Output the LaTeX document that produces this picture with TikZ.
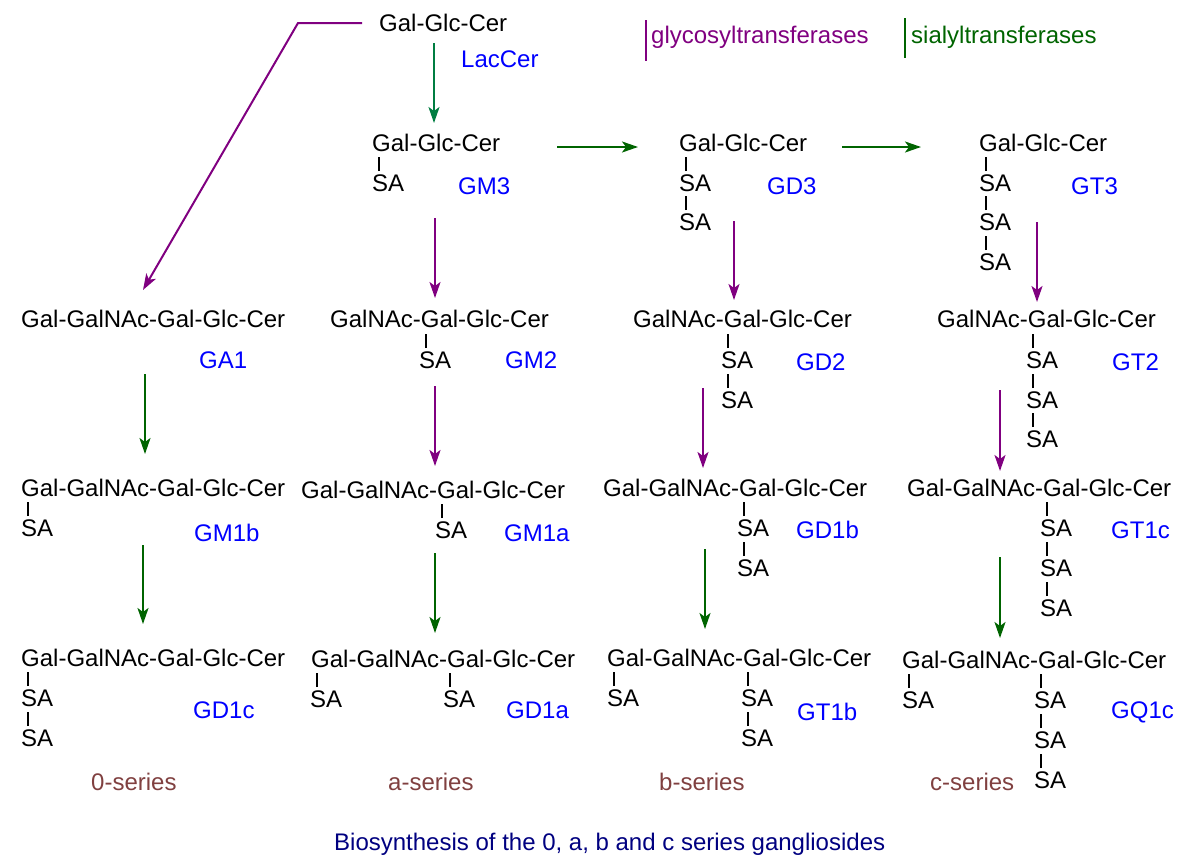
\documentclass[tikz,border=0pt]{standalone}
\usepackage{fontspec}
\setmainfont{Liberation Sans}
\usetikzlibrary{arrows.meta}
\definecolor{pur}{RGB}{128,0,128}
\definecolor{grn}{RGB}{0,100,0}
\definecolor{tealgrn}{RGB}{0,125,65}
\definecolor{lbl}{RGB}{0,0,255}
\definecolor{ser}{RGB}{128,64,64}
\definecolor{ttl}{RGB}{0,0,128}
\newcommand\saunit[3]{\node[sa] (#1) at (#2,#3) {SA};
  \draw[bond] ([shift={(7,-3)}]#1.north west) -- ++(0,-14);}
\begin{document}
\begin{tikzpicture}[x=1pt,y=-1pt,
  txt/.style={inner sep=0pt, anchor=base west, font=\fontsize{24}{28}\selectfont},
  mol/.style={txt, text=black},
  sa/.style={txt, text=black},
  gname/.style={txt, text=lbl},
  series/.style={txt, text=ser},
  arr/.style={line width=2pt, -{Stealth[length=16pt,width=11pt,inset=4pt]}},
  gly/.style={arr, draw=pur},
  sia/.style={arr, draw=grn},
  bond/.style={line width=2pt, draw=black},
  legline/.style={line width=2pt}]
\useasboundingbox (0,0) rectangle (1185,865);

% legend
\node[txt, text=pur] (legg) at (651,43) {glycosyltransferases};
\node[txt, text=grn] (legs) at (911,43) {sialyltransferases};
\draw[legline, pur] (646,20) -- (646,61);
\draw[legline, grn] (905,18) -- (905,58);

% top
\node[mol] (lac) at (379,31) {Gal-Glc-Cer};
\node[gname] (lacname) at (461,67) {LacCer};

% row 1
\node[mol] (gm3) at (372,151) {Gal-Glc-Cer};
\saunit{gm3s1}{372}{191}
\node[gname] (gm3n) at (458,194) {GM3};

\node[mol] (gd3) at (679,151) {Gal-Glc-Cer};
\saunit{gd3s1}{679}{191}
\saunit{gd3s2}{679}{230}
\node[gname] (gd3n) at (767,194) {GD3};

\node[mol] (gt3) at (979,151) {Gal-Glc-Cer};
\saunit{gt3s1}{979}{191}
\saunit{gt3s2}{979}{230}
\saunit{gt3s3}{979}{270}
\node[gname] (gt3n) at (1071,194) {GT3};

% row 2
\node[mol] (ga1) at (21,327) {Gal-GalNAc-Gal-Glc-Cer};
\node[gname] (ga1n) at (199,368) {GA1};

\node[mol] (gm2) at (330,327) {GalNAc-Gal-Glc-Cer};
\saunit{gm2s1}{419}{368}
\node[gname] (gm2n) at (505,368) {GM2};

\node[mol] (gd2) at (633,327) {GalNAc-Gal-Glc-Cer};
\saunit{gd2s1}{721}{368}
\saunit{gd2s2}{721}{408}
\node[gname] (gd2n) at (796,370) {GD2};

\node[mol] (gt2) at (937,327) {GalNAc-Gal-Glc-Cer};
\saunit{gt2s1}{1026}{368}
\saunit{gt2s2}{1026}{408}
\saunit{gt2s3}{1026}{447}
\node[gname] (gt2n) at (1112,370) {GT2};

% row 3
\node[mol] (gm1b) at (21,496) {Gal-GalNAc-Gal-Glc-Cer};
\saunit{gm1bs1}{21}{536}
\node[gname] (gm1bn) at (194,541) {GM1b};

\node[mol] (gm1a) at (301,498) {Gal-GalNAc-Gal-Glc-Cer};
\saunit{gm1as1}{435}{538}
\node[gname] (gm1an) at (504,541) {GM1a};

\node[mol] (gd1b) at (603,496) {Gal-GalNAc-Gal-Glc-Cer};
\saunit{gd1bs1}{737}{536}
\saunit{gd1bs2}{737}{576}
\node[gname] (gd1bn) at (796,538) {GD1b};

\node[mol] (gt1c) at (907,496) {Gal-GalNAc-Gal-Glc-Cer};
\saunit{gt1cs1}{1040}{536}
\saunit{gt1cs2}{1040}{576}
\saunit{gt1cs3}{1040}{616}
\node[gname] (gt1cn) at (1111,538) {GT1c};

% row 4
\node[mol] (gd1c) at (21,666) {Gal-GalNAc-Gal-Glc-Cer};
\saunit{gd1cs1}{21}{706}
\saunit{gd1cs2}{21}{746}
\node[gname] (gd1cn) at (193,718) {GD1c};

\node[mol] (gd1a) at (311,667) {Gal-GalNAc-Gal-Glc-Cer};
\saunit{gd1as1}{310}{707}
\saunit{gd1as2}{443}{707}
\node[gname] (gd1an) at (506,718) {GD1a};

\node[mol] (gt1b) at (607,666) {Gal-GalNAc-Gal-Glc-Cer};
\saunit{gt1bs1}{607}{706}
\saunit{gt1bs2}{741}{706}
\saunit{gt1bs3}{741}{746}
\node[gname] (gt1bn) at (797,720) {GT1b};

\node[mol] (gq1c) at (902,668) {Gal-GalNAc-Gal-Glc-Cer};
\saunit{gq1cs1}{902}{708}
\saunit{gq1cs2}{1034}{708}
\saunit{gq1cs3}{1034}{748}
\saunit{gq1cs4}{1034}{788}
\node[gname] (gq1cn) at (1111,718) {GQ1c};

% series labels and title
\node[series] (s0) at (91,790) {0-series};
\node[series] (sa) at (388,790) {a-series};
\node[series] (sb) at (659,790) {b-series};
\node[series] (sc) at (930,790) {c-series};
\node[txt, text=ttl] (title) at (334,850) {Biosynthesis of the 0, a, b and c series gangliosides};

% arrow end points
\coordinate (lacA) at (434,43);   \coordinate (gm3A) at (434,123);
\coordinate (lacL) at (362,23);   \coordinate (bend) at (298,23);
\coordinate (ga1A) at (143,290);
\coordinate (gm3R) at (557,147);  \coordinate (gd3L) at (638,147);
\coordinate (gd3R) at (842,147);  \coordinate (gt3L) at (921,147);
\coordinate (gm3B) at (435,218);  \coordinate (gm2T) at (435,298);
\coordinate (gd3B) at (734,221);  \coordinate (gd2T) at (734,300);
\coordinate (gt3B) at (1037,222); \coordinate (gt2T) at (1037,302);
\coordinate (ga1B) at (145,374);  \coordinate (gm1bT) at (145,454);
\coordinate (gm2B) at (435,386);  \coordinate (gm1aT) at (435,466);
\coordinate (gd2B) at (703,388);  \coordinate (gd1bT) at (703,468);
\coordinate (gt2B) at (1000,390); \coordinate (gt1cT) at (1000,471);
\coordinate (gm1bB) at (143,545); \coordinate (gd1cT) at (143,624);
\coordinate (gm1aB) at (435,553); \coordinate (gd1aT) at (435,633);
\coordinate (gd1bB) at (705,549); \coordinate (gt1bT) at (705,629);
\coordinate (gt1cB) at (1000,557);\coordinate (gq1cT) at (1000,638);

% arrows
\draw[arr, draw=tealgrn] (lacA) -- (gm3A);
\draw[gly] (lacL) -- (bend) -- (ga1A);
\draw[sia] (gm3R) -- (gd3L);
\draw[sia] (gd3R) -- (gt3L);
\draw[gly] (gm3B) -- (gm2T);
\draw[gly] (gd3B) -- (gd2T);
\draw[gly] (gt3B) -- (gt2T);
\draw[sia] (ga1B) -- (gm1bT);
\draw[gly] (gm2B) -- (gm1aT);
\draw[gly] (gd2B) -- (gd1bT);
\draw[gly] (gt2B) -- (gt1cT);
\draw[sia] (gm1bB) -- (gd1cT);
\draw[sia] (gm1aB) -- (gd1aT);
\draw[sia] (gd1bB) -- (gt1bT);
\draw[sia] (gt1cB) -- (gq1cT);
\end{tikzpicture}
\end{document}
